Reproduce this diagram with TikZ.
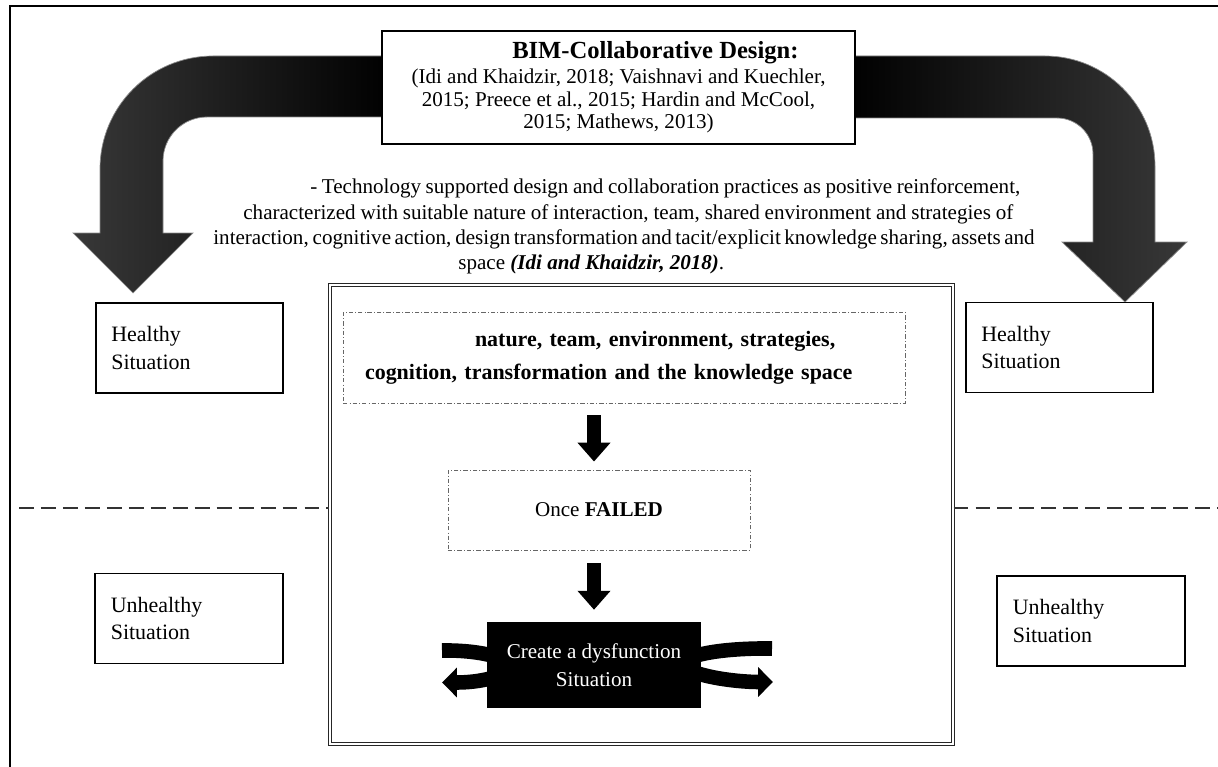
\documentclass[tikz,border=0pt]{standalone}
\usepackage{fontspec}
\setmainfont{Liberation Serif}
\usetikzlibrary{arrows.meta}
\begin{document}
\begin{tikzpicture}[x=0.02cm,y=-0.02cm,
  outerframe/.style={draw, line width=1.1pt},
  plainbox/.style={draw, line width=0.9pt, fill=white, inner sep=0pt},
  sitbox/.style={plainbox, align=left, text width=89pt, minimum width=106.7pt, minimum height=51.3pt, font=\fontsize{12.5}{15.4}\selectfont},
  dotbox/.style={draw=black!60, line width=0.45pt, dash pattern=on 2.5pt off 1.2pt on 0.5pt off 1.2pt, inner sep=0pt},
  dblbox/.style={draw=black!85, double=white, double distance=1.2pt, line width=0.7pt, inner sep=0pt},
  bigarrow/.style={draw=black!45, line width=0.4pt},
  blockarrow/.style={line width=8.5pt, -{Triangle[width=18.2pt,length=10.8pt]}},
  uturn/.style={line width=8.3pt, -{Triangle[width=16.5pt,length=8.5pt]}},
  divider/.style={draw=black!80, line width=1.1pt, dash pattern=on 8.5pt off 4pt},
  txt/.style={inner sep=0pt, font=\fontsize{12}{14.2}\selectfont},
]
\useasboundingbox (0,0) rectangle (1218,767);
\fill[white] (0,0) rectangle (1218,767);
\draw[outerframe] (10,6) rectangle (1240,790);

% big curved arrows
\shade[bigarrow, left color=black!78, middle color=black, right color=black]
  (392,56) -- (213,56) .. controls (150.6,56) and (100,106.6) .. (100,169)
  -- (100,233) -- (73,233) -- (133,293) -- (193,233) -- (163,233)
  -- (163,161) .. controls (163,136.7) and (182.7,117) .. (207,117)
  -- (392,117) -- cycle;
\shade[bigarrow, left color=black, middle color=black, right color=black!78]
  (845,56) -- (1045,56) .. controls (1105.7,56) and (1155,105.3) .. (1155,166)
  -- (1155,242) -- (1187,242) -- (1125,302) -- (1062,242) -- (1093,242)
  -- (1093,154) .. controls (1093,134.1) and (1076.9,118) .. (1057,118)
  -- (845,118) -- cycle;

% top box
\node[plainbox, minimum width=269.2pt, minimum height=64.3pt, align=center, font=\fontsize{12}{12.8}\selectfont] (tb) at (618.5,87.5)
  {\hspace*{42pt}{\fontsize{14}{14}\selectfont\bfseries BIM-Collaborative Design:}\\[1.5pt]
   (Idi and Khaidzir, 2018; Vaishnavi and Kuechler,\\
   2015; Preece et al., 2015; Hardin and McCool,\\
   2015; Mathews, 2013)};

% description
\node[txt, anchor=base west] (d1) at (310,194) {\makebox[404.1pt][s]{- Technology supported design and collaboration practices as positive reinforcement,}};
\node[txt, anchor=base west] (d2) at (243,219) {\makebox[438.2pt][s]{characterized with suitable nature of interaction, team, shared environment and strategies of}};
\node[txt, anchor=base west] (d3) at (213,244) {\makebox[466.7pt][s]{interaction, cognitive action, design transformation and tacit/explicit knowledge sharing, assets and}};
\node[txt, anchor=base west] (d4) at (458,269) {space \textbf{\textit{(Idi and Khaidzir, 2018)}}.};

% situation boxes
\node[sitbox] (hl) at (189.5,348) {Healthy\\Situation};
\node[sitbox] (hr) at (1059.5,347.5) {Healthy\\Situation};
\node[sitbox] (ul) at (189,618.5) {Unhealthy\\Situation};
\node[sitbox] (ur) at (1091,621) {Unhealthy\\Situation};

% central double box
\node[dblbox, minimum width=354.5pt, minimum height=261.2pt] (cb) at (641.5,514.5) {};

% dividers
\coordinate (dl) at (19,508);
\coordinate (dr) at (1225,508);
\draw[divider] (dl) -- (dl -| cb.west);
\draw[divider] (cb.east |- dr) -- (dr);

% dotted boxes
\node[dotbox, minimum width=319.8pt, minimum height=51.8pt, align=left, text width=294.8pt, font=\fontsize{12.5}{19}\selectfont\bfseries] (n1) at (624,357.5)
  {\hspace*{62.6pt}nature, team, environment, strategies,\\cognition, transformation and the knowledge space};
\node[dotbox, minimum width=171.9pt, minimum height=45.5pt, font=\fontsize{12}{14}\selectfont] (n2) at (599,510) {Once \textbf{FAILED}};

% u-turn arrows (behind black box)
\coordinate (lu1) at (442,650.5);
\coordinate (lu2) at (442,682.5);
\draw[uturn] (lu1) .. controls (475,650) and (505,656) .. (512,666) .. controls (505,677) and (480,682.5) .. (lu2);
\coordinate (ru1) at (772,648.5);
\coordinate (ru2) at (773,682);
\draw[uturn] (ru1) .. controls (735,648) and (690,652) .. (680,664) .. controls (690,676) and (735,682) .. (ru2);

% black box
\node[fill=black, text=white, inner sep=0pt, minimum width=121.8pt, minimum height=48.9pt, align=center, font=\fontsize{12}{16}\selectfont] (blk) at (594,665)
  {Create a dysfunction\\Situation};

% block arrows
\draw[blockarrow, shorten <=6.8pt, shorten >=4.6pt] (n1.south -| blk.north) -- (n2.north -| blk.north);
\draw[blockarrow, shorten <=7.4pt, shorten >=6.8pt] (n2.south -| blk.north) -- (blk.north);
\end{tikzpicture}
\end{document}
